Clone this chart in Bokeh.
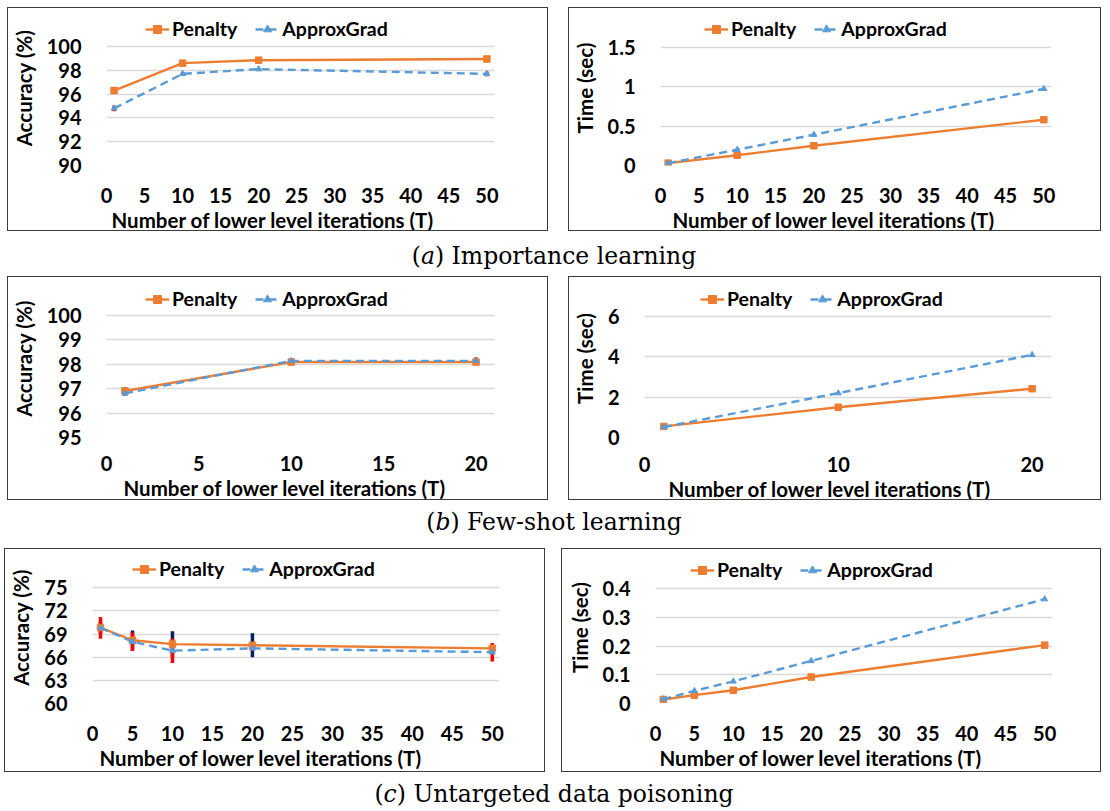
from bokeh.plotting import figure
from bokeh.models import (Legend, LegendItem, FixedTicker, CustomJSTickFormatter,
                          Div, Range1d, Title)
from bokeh.layouts import row, column
from bokeh.embed import file_html
from bokeh.resources import INLINE

# ---------------- data ----------------
T_a = [1, 10, 20, 50]
acc_a_penalty = [96.3, 98.6, 98.85, 98.95]
acc_a_penalty_err = [0.3, 0.1, 0.1, 0.1]
acc_a_approx = [94.8, 97.7, 98.1, 97.7]
acc_a_approx_err = [0.25, 0.15, 0.1, 0.2]
time_a_penalty = [0.03, 0.13, 0.25, 0.58]
time_a_approx = [0.03, 0.2, 0.39, 0.97]

T_b = [1, 10, 20]
acc_b_penalty = [96.9, 98.08, 98.08]
acc_b_penalty_err = [0.15, 0.05, 0.05]
acc_b_approx = [96.8, 98.13, 98.13]
acc_b_approx_err = [0.1, 0.1, 0.15]
time_b_penalty = [0.55, 1.5, 2.42]
time_b_approx = [0.52, 2.2, 4.1]

T_c = [1, 5, 10, 20, 50]
acc_c_penalty = [69.85, 68.2, 67.7, 67.55, 67.15]
acc_c_penalty_err = [0.8, 1.25, 1.65, 1.55, 0.3]
acc_c_approx = [69.8, 68.0, 66.85, 67.15, 66.65]
acc_c_approx_err = [1.4, 1.2, 1.6, 0.3, 1.2]
time_c_penalty = [0.014, 0.029, 0.046, 0.092, 0.203]
time_c_approx = [0.015, 0.044, 0.077, 0.148, 0.363]

series_names = ["Penalty", "ApproxGrad"]
x_title = "Number of lower level iterations (T)"
captions = [("a", "Importance learning"), ("b", "Few-shot learning"),
            ("c", "Untargeted data poisoning")]

# ---------------- style ----------------
ORANGE = "#ED7D31"
BLUE = "#5B9BD5"
NAVY = "#002060"
RED = "#FF0000"
FONT = "Lato"
TOP_PAD = 2
fmt = CustomJSTickFormatter(code="return String(Math.round(tick*1000)/1000)")


def panel(width, height, borders, xs, pen, app, pen_err, app_err,
          x_end, y_range, xticks, yticks, ylabel, legend_x, legend_up, title_dx,
          x_standoff=16):
    L, R, T, B = borders
    y0, y1 = y_range
    grid_h = height - T - B                 # pixels between lowest and highest gridline
    frame_h = height - TOP_PAD - B          # frame also holds the legend strip
    y_top = y0 + (y1 - y0) * frame_h / grid_h
    p = figure(width=width, height=height, output_backend="svg",
               toolbar_location=None,
               x_range=Range1d(0, x_end), y_range=Range1d(y0, y_top),
               min_border_left=L, min_border_right=R,
               min_border_top=TOP_PAD, min_border_bottom=B)
    p.outline_line_color = None
    p.styles = {"border": "1.3px solid #3c3c3c"}
    p.xgrid.visible = False
    p.ygrid.grid_line_color = "#d9d9d9"
    p.ygrid.grid_line_width = 1.3
    for ax, ticks in ((p.xaxis, xticks), (p.yaxis, yticks)):
        ax.ticker = FixedTicker(ticks=ticks)
        ax.formatter = fmt
        ax.axis_line_color = None
        ax.major_tick_line_color = None
        ax.minor_tick_line_color = None
        ax.major_label_text_font = FONT
        ax.major_label_text_font_style = "bold"
        ax.major_label_text_font_size = "20px"
        ax.major_label_text_color = "black"
        ax.axis_label_text_font = FONT
        ax.axis_label_text_font_style = "bold"
        ax.axis_label_text_font_size = "20.5px"
        ax.axis_label_text_color = "black"
    p.xaxis.major_label_standoff = x_standoff
    p.yaxis.major_label_standoff = 19
    p.yaxis.axis_label_standoff = 8
    p.yaxis.axis_label = ylabel
    p.add_layout(Title(text=x_title, align="left", offset=title_dx - 10, standoff=0,
                       text_font=FONT, text_font_style="bold",
                       text_font_size="20.5px", text_color="black"), "below")

    if pen_err is not None:
        p.segment(x0=xs, x1=xs, y0=[v - e for v, e in zip(pen, pen_err)],
                  y1=[v + e for v, e in zip(pen, pen_err)],
                  line_color=NAVY, line_width=3.5)
        p.segment(x0=xs, x1=xs, y0=[v - e for v, e in zip(app, app_err)],
                  y1=[v + e for v, e in zip(app, app_err)],
                  line_color=RED, line_width=3.5)
    l1 = p.line(xs, pen, line_color=ORANGE, line_width=2.4)
    s1 = p.scatter(xs, pen, marker="square", size=6.5, color=ORANGE)
    l2 = p.line(xs, app, line_color=BLUE, line_width=2.4, line_dash="8 5")
    s2 = p.scatter(xs, app, marker="triangle", size=6, color=BLUE)

    leg = Legend(items=[LegendItem(label=series_names[0], renderers=[l1, s1]),
                        LegendItem(label=series_names[1], renderers=[l2, s2])],
                 orientation="horizontal",
                 location=(legend_x - 10, grid_h + legend_up - 14),
                 border_line_color=None, background_fill_alpha=0,
                 label_text_font=FONT, label_text_font_style="bold",
                 label_text_font_size="19.5px", label_text_color="black",
                 glyph_width=24, glyph_height=20, label_standoff=3,
                 spacing=18, padding=0, margin=0, label_height=20)
    p.add_layout(leg, "center")
    return p


def caption(letter, text, height, line_h):
    return Div(text=f"(<i>{letter}</i>) {text}", width=1094, height=height,
               margin=0,
               styles={"font-family": "DejaVu Serif", "font-size": "23.5px",
                       "text-align": "center", "width": "1094px",
                       "line-height": f"{line_h}px", "color": "black"})


pa1 = panel(541, 224, (90, 55, 38, 67), T_a, acc_a_penalty, acc_a_approx,
            acc_a_penalty_err, acc_a_approx_err, 51, (90, 100),
            [0, 5, 10, 15, 20, 25, 30, 35, 40, 45, 50],
            [90, 92, 94, 96, 98, 100], "Accuracy (%)", 49, 20, 15)
pa2 = panel(533, 224, (85, 51, 39, 65), T_a, time_a_penalty, time_a_approx,
            None, None, 51, (0, 1.5),
            [0, 5, 10, 15, 20, 25, 30, 35, 40, 45, 50],
            [0, 0.5, 1, 1.5], "Time (sec)", 54, 19, 22)
pb1 = panel(541, 224, (90, 55, 38, 62), T_b, acc_b_penalty, acc_b_approx,
            acc_b_penalty_err, acc_b_approx_err, 21, (95, 100),
            [0, 5, 10, 15, 20], [95, 96, 97, 98, 99, 100], "Accuracy (%)", 49, 17, 27,
            x_standoff=12)
pb2 = panel(533, 224, (73, 51, 39, 64), T_b, time_b_penalty, time_b_approx,
            None, None, 21, (0, 6), [0, 10, 20], [0, 2, 4, 6], "Time (sec)", 66, 20, 34,
            x_standoff=13)
pc1 = panel(541, 224, (87, 47, 39, 67), T_c, acc_c_penalty, acc_c_approx,
            acc_c_penalty_err, acc_c_approx_err, 50.9, (60, 75),
            [0, 5, 10, 15, 20, 25, 30, 35, 40, 45, 50],
            [60, 63, 66, 69, 72, 75], "Accuracy (%)", 50, 19, 17)
pc2 = panel(540, 224, (93, 50, 39, 70), T_c, time_c_penalty, time_c_approx,
            None, None, 51, (0, 0.4),
            [0, 5, 10, 15, 20, 25, 30, 35, 40, 45, 50],
            [0, 0.1, 0.2, 0.3, 0.4], "Time (sec)", 45, 21, 14)

layout = column(
    row(pa1, pa2, spacing=20),
    caption(*captions[0], 45, 50),
    row(pb1, pb2, spacing=20),
    caption(*captions[1], 48, 44),
    row(pc1, pc2, spacing=16, margin=(0, 0, 0, -3)),
    caption(*captions[2], 36, 44),
    spacing=0,
    margin=(7, 0, 0, 7),
)

open("out.html", "w").write(file_html(layout, INLINE))
